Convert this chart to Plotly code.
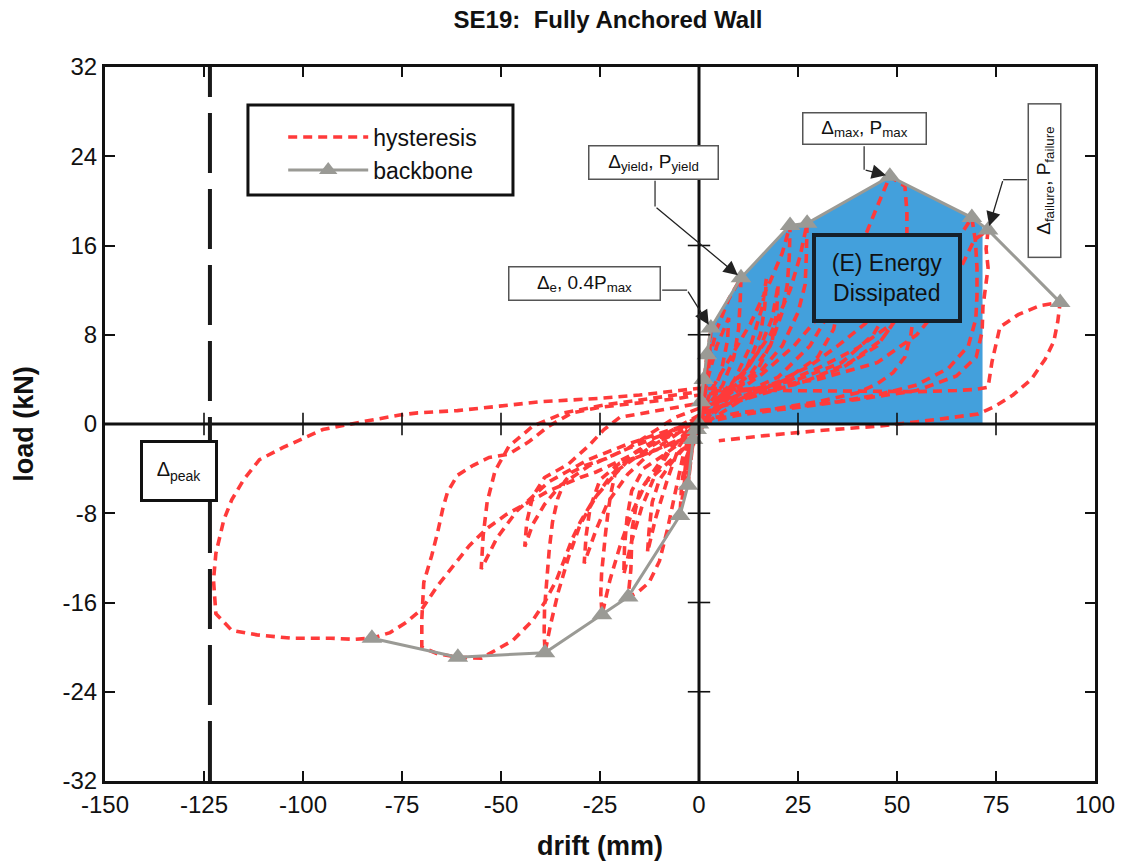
import plotly.graph_objects as go

# ---------------- data ----------------
x_ticks = [-150, -125, -100, -75, -50, -25, 0, 25, 50, 75, 100]
y_ticks = [-32, -24, -16, -8, 0, 8, 16, 24, 32]

# backbone (negative branch from far left to origin, then positive branch)
bb_neg_x = [-82.6, -60.9, -38.9, -24.5, -17.9, -4.8, -2.8, -1.5, -0.6]
bb_neg_y = [-19.2, -20.9, -20.5, -17.1, -15.5, -8.2, -5.5, -1.4, -0.5]
bb_pos_x = [0.0, 0.5, 1.2, 2.0, 3.0, 10.6, 23.0, 27.3, 48.2, 68.9, 73.0, 91.2]
bb_pos_y = [0.0, 2.0, 4.0, 6.2, 8.6, 13.1, 17.8, 18.0, 22.2, 18.5, 17.4, 10.9]

energy_right_x = 71.6      # right edge of the shaded energy region
energy_right_top = 17.8
delta_peak_x = -123.5

# hysteresis cycles
s1_x = [0, 0.3, 0.6, 0.4, 0.1, -0.3, -0.6, -0.4, 0]
s1_y = [0, 1.2, 2.2, 1.2, 0.3, -0.4, -0.9, -0.5, 0]
s2_x = [0, 0.6, 1.2, 0.9, 0.3, -0.4, -1.0, -1.5, -1.0, -0.3, 0]
s2_y = [0, 2.0, 4.0, 2.5, 0.8, -0.3, -0.9, -1.4, -0.8, -0.2, 0]
s3_x = [0, 1.0, 2.0, 1.6, 0.8, 0, -0.8, -1.8, -2.8, -2.3, -1.4, -0.5, 0]
s3_y = [0, 3.0, 6.2, 4.0, 1.8, 0.4, -0.8, -2.5, -5.5, -3.4, -1.6, -0.5, 0]
s4_x = [0, 1.5, 3.0, 2.6, 1.6, 0.5, -0.5, -1.5, -2.8, -2.4, -1.5, -0.5, 0]
s4_y = [0, 4.0, 8.6, 5.5, 2.8, 1.0, -0.2, -1.5, -5.5, -3.5, -1.8, -0.6, 0]
c2_x = [0, 2, 4.5, 7.5, 10.6, 10.4, 10.0, 8.8, 6, 3, 0.5, -1, -2.5, -3.8, -4.8, -4.4, -3.6, -2.4, -1, 0]
c2_y = [0, 5, 8.5, 11.2, 13.1, 11, 8.5, 6, 3.5, 2, 1, -0.5, -2.5, -5.5, -8.2, -5.5, -3.5, -2, -0.8, -0.3]
t2_x = [0, 2, 4.5, 7.5, 7.2, 5.5, 3, 0.5, -1, -2.5, -3.8, -3.2, -2, -0.5, 0]
t2_y = [-0.3, 3.8, 7, 9.5, 7.5, 4.5, 2.5, 1, -0.5, -2.5, -5, -3, -1.8, -0.6, 0]
c3_x = [0, 3, 8, 13, 18, 21, 23.0, 22.8, 22.3, 21, 18, 13, 8, 3, 0, -2, -4, -6, -8, -10, -12.6, -15.5, -17.9,
        -17.2, -17.1, -16.9, -16, -15, -13.4, -11, -7, -3, 0]
c3_y = [0, 3, 6, 9, 12.8, 15.3, 17.8, 15, 12.5, 10, 7, 4.5, 3, 1.8, 0.8, -0.6, -2.8, -6, -9.5, -12.3, -14.2, -15.1, -15.5,
        -13, -11.2, -9.4, -7.6, -6.1, -5.2, -4.5, -3.2, -1.8, -0.8]
t3_x = [0, 4, 9, 13, 16, 17, 16.6, 15.5, 12, 7, 2, 0, -2, -5, -8, -11, -13, -12.6, -11.8, -10, -7, -3, 0]
t3_y = [-0.8, 1.5, 4, 7, 10.5, 13, 10.5, 8, 5, 3, 1.5, 0.7, -0.4, -2, -5, -8.5, -11.5, -9.5, -7, -5, -3.5, -1.8, -0.6]
c4_x = [0, 5, 12, 18, 23, 25.5, 27.3, 27.1, 26.8, 25, 21, 15, 8, 2, 0, -3, -8, -13, -17, -20, -22.5, -24.5,
        -24.8, -24.6, -24.2, -23.6, -23.0, -22.3, -21.2, -18, -12, -5, 0]
c4_y = [-0.6, 2.5, 5, 8, 12, 15, 18.0, 15, 12.5, 10, 7, 4.5, 2.8, 1.5, 0.8, -0.8, -2.5, -5, -8, -11, -14, -17.1,
        -15.2, -13.4, -11.6, -9.8, -8, -6.3, -4.5, -3.3, -2.5, -1.5, -0.5]
t4_x = [0, 5, 10, 15, 18.5, 20, 19.6, 18.5, 15, 9, 3, 0, -3, -7, -11, -14.5, -17, -19, -18.8, -18.2, -17, -14, -9, -4, 0]
t4_y = [-0.5, 1.8, 3.8, 6.5, 9.5, 12.5, 10, 7.5, 5, 3, 1.6, 0.8, -0.6, -2.2, -4.5, -7.5, -10.5, -13.5, -11, -8.5, -6,
        -4, -2.8, -1.5, -0.5]
c5_x = [0, 8, 16, 24, 30, 36, 41, 45, 48.2, 52, 52.5, 52.5, 51.8, 50, 47, 42, 35, 28, 20, 12, 5, 0, -5, -12, -20,
        -26, -30, -33, -35.5, -37.5, -38.9, -39.1, -39.0, -38.3, -37.8, -37, -35.7, -34, -32, -28.5, -23.4, -18,
        -12, -6, 0]
c5_y = [-0.5, 2.5, 4.5, 7, 9.5, 12.5, 16, 19.5, 22.2, 21.3, 19, 17, 15.5, 13.5, 11.5, 9, 7, 5.2, 3.8, 2.6, 1.6, 0.8,
        -0.5, -2, -4, -6.5, -9, -12, -15, -18, -20.5, -18.5, -16.5, -13.2, -11.2, -8.8, -6.7, -5.2, -4.3, -3.7, -3.1,
        -2.2, -0.8, 0.6, 1.4]
t5_x = [0, 10, 20, 28, 33, 36, 35.5, 34, 30, 22, 12, 4, 0, -6, -12, -18, -23, -26, -29, -28.5, -27.5, -25, -20, -12, -4, 0]
t5_y = [1.4, 2.6, 4.2, 7, 10, 13.5, 11, 8.5, 6, 4, 2.5, 1.3, 0.5, -1, -2.5, -4.5, -7, -9.5, -12.5, -10, -7.5, -5, -3.5,
        -2.5, -1.2, -0.3]
c6_x = [0, 10, 20, 30, 40, 48, 55, 60, 64, 68.9, 69.8, 70.2, 70.2, 69.9, 68, 63, 55, 45, 35, 22, 10, 0, -8, -16, -22,
        -27, -30, -32, -34, -36, -39, -42, -47, -51, -55, -60.9, -66, -70, -70, -69.5, -67.5, -66, -64.7, -63.5,
        -61, -57, -53, -48, -43, -38, -32, -25, -15, -5, 0]
c6_y = [-0.3, 2, 3.5, 5, 6.8, 8.8, 11, 13.5, 15.8, 18.5, 16.4, 14, 11.5, 9.4, 7, 5, 3.5, 2.6, 2, 1.5, 1, 0.3, -0.8,
        -2.5, -4.5, -7, -8.8, -10.3, -12.2, -14, -16, -17.6, -19.4, -20.2, -21, -20.9, -20.6, -20.0, -17.5, -14.2,
        -11.8, -9.7, -7.6, -6.1, -4.6, -3.7, -3, -2.7, -1.6, -0.2, 1.0, 1.5, 1.9, 2.3, 2.6]
t6_x = [0, 12, 25, 36, 44, 49, 52, 51.5, 50, 46, 38, 28, 16, 6, 0, -8, -18, -28, -35, -39, -42, -44, -43.5, -42,
        -39, -33, -28, -24, -20, -12, -5, 0]
t6_y = [2.6, 3.0, 4.0, 5.5, 8, 11, 14.5, 12, 9.5, 7.5, 5.5, 4, 2.7, 1.6, 0.8, -0.8, -2.2, -3.8, -5.5, -7.2, -9,
        -11, -8.8, -6.5, -4.8, -3.6, -2.0, -0.5, 0.6, 1.1, 1.5, 1.8]
t7_x = [0, 12, 25, 36, 45, 50, 55, 54.5, 53.5, 52, 49, 45, 40, 30, 20, 10, 0, -8, -18, -28, -38, -46, -51, -55,
        -54.5, -53.5, -51.5, -48, -42, -34, -24, -12, 0]
t7_y = [1.8, 2.6, 3.6, 5.0, 7.0, 9.5, 13.0, 10.5, 8.0, 6.0, 4.6, 3.6, 2.8, 2.0, 1.4, 0.8, 0.2, -0.6, -1.8, -3.2,
        -5.2, -7.8, -10.2, -13.0, -10.0, -7.0, -4.2, -2.0, -0.2, 1.0, 1.7, 2.3, 2.9]
c7_x = [0, 15, 30, 45, 55, 62, 66, 69.5, 73.0, 72.5, 73, 72.3, 71.7, 71.5, 70, 65, 55, 40, 25, 10, 0, -10, -20, -26,
        -30, -34, -38, -43, -48.6, -53.7, -58, -62, -66, -70, -74, -78, -82.6, -87, -93, -103, -111.6, -118, -122,
        -122.6, -122, -120, -118, -115, -111, -105, -95, -85, -75.6, -71, -61, -50.4, -40, -25, -15, -5, 0]
c7_y = [2.9, 3.2, 4.0, 5.5, 8, 11, 14, 16.5, 17.4, 15.7, 14, 12.3, 10.5, 8.3, 6, 4.3, 3, 2.2, 1.5, 0.8, 0, -1.5,
        -3.3, -4.3, -4.8, -5.4, -6, -7, -8.1, -9.4, -10.9, -12.7, -14.5, -16.6, -17.8, -18.7, -19.2, -19.3, -19.2,
        -19.2, -18.9, -18.5, -17.0, -14.0, -11.6, -8.6, -6.8, -5.0, -3.2, -2.1, -0.5, 0.2, 0.8, 1.0, 1.2, 1.6, 2.0,
        2.3, 2.6, 3.0, 3.2]
c8_x = [0, 20, 40, 55, 65, 70, 73, 74, 76, 80.6, 86, 91.2, 90.6, 89.6, 87.4, 83.9, 79.3, 74.3, 70.5, 60, 45, 30, 15, 5]
c8_y = [3.2, 3.0, 2.9, 2.9, 3.0, 3.1, 3.3, 5.6, 8.7, 9.8, 10.6, 10.9, 9.2, 7.4, 5.8, 4.0, 2.6, 1.5, 0.9, 0.4, -0.2,
        -0.6, -1.1, -1.5]

cycles_x = [s1_x, s2_x, s3_x, s4_x, c2_x, t2_x, c3_x, t3_x, c4_x, t4_x, c5_x, t5_x, c6_x, t6_x, t7_x, c7_x, c8_x]
cycles_y = [s1_y, s2_y, s3_y, s4_y, c2_y, t2_y, c3_y, t3_y, c4_y, t4_y, c5_y, t5_y, c6_y, t6_y, t7_y, c7_y, c8_y]

hyst_x, hyst_y = [], []
for cx, cy in zip(cycles_x, cycles_y):
    hyst_x += cx
    hyst_y += cy

bb_x = bb_neg_x + bb_pos_x
bb_y = bb_neg_y + bb_pos_y

# energy region: origin, positive backbone up to the failure drift, then down
fill_x = [x for x in bb_pos_x if x <= energy_right_x] + [energy_right_x, energy_right_x, 0]
fill_y = [y for x, y in zip(bb_pos_x, bb_pos_y) if x <= energy_right_x] + [energy_right_top, 0, 0]

# ---------------- figure ----------------
FONT = "Liberation Sans, Arial, sans-serif"
BLUE = "#43a0dc"
RED = "#ff3a3a"
GRAY = "#9a9a95"

fig = go.Figure()
fig.add_trace(go.Scatter(x=fill_x, y=fill_y, fill="toself", fillcolor=BLUE, mode="none",
                         showlegend=False, hoverinfo="skip"))
fig.add_trace(go.Scatter(x=hyst_x, y=hyst_y, mode="lines", name="hysteresis",
                         line=dict(color=RED, width=3.6, dash="9px,6px")))
fig.add_trace(go.Scatter(x=bb_x, y=bb_y, mode="lines+markers", name="backbone",
                         line=dict(color=GRAY, width=3),
                         marker=dict(symbol="triangle-up", size=18, color=GRAY)))
# tick marks crossing the zero lines
xt_inner = [t for t in x_ticks if t not in (x_ticks[0], x_ticks[-1], 0)]
yt_inner = [t for t in y_ticks if t not in (y_ticks[0], y_ticks[-1], 0)]
fig.add_trace(go.Scatter(x=xt_inner, y=[0] * len(xt_inner), mode="markers", showlegend=False, hoverinfo="skip",
                         marker=dict(symbol="line-ns", size=16, line=dict(color="#111", width=1.6))))
fig.add_trace(go.Scatter(x=[0] * len(yt_inner), y=yt_inner, mode="markers", showlegend=False, hoverinfo="skip",
                         marker=dict(symbol="line-ew", size=16, line=dict(color="#111", width=1.6))))

shapes = [
    dict(type="line", x0=0, x1=0, y0=-32, y1=32, xref="x", yref="y", line=dict(color="#111", width=3), layer="above"),
    dict(type="line", x0=-150, x1=100, y0=0, y1=0, xref="x", yref="y", line=dict(color="#111", width=3), layer="above"),
    dict(type="line", x0=delta_peak_x, x1=delta_peak_x, y0=-32, y1=32, xref="x", yref="y",
         line=dict(color="#1a1a1a", width=4, dash="60px,16px"), layer="above"),
    # legend frame
    dict(type="rect", xref="paper", yref="paper", x0=0.1444, x1=0.4121, y0=0.8207, y1=0.9468,
         line=dict(color="#111", width=3), fillcolor="rgba(0,0,0,0)", layer="above"),
    # leader lines
    dict(type="line", x0=-11.1, x1=-11.1, y0=21.8, y1=19.5, line=dict(color="#333", width=1.3), layer="above"),
    dict(type="line", x0=-9.3, x1=-3.0, y0=12.0, y1=12.0, line=dict(color="#333", width=1.3), layer="above"),
    dict(type="line", x0=41.7, x1=41.7, y0=24.9, y1=22.8, line=dict(color="#333", width=1.3), layer="above"),
    dict(type="line", x0=82.8, x1=76.8, y0=21.9, y1=21.9, line=dict(color="#333", width=1.3), layer="above"),
]

ann = []
def box(text, x, y, w, h, size=19, angle=0, bw=1.5, bc="#555", bg="white", color="#111"):
    ann.append(dict(text=text, x=x, y=y, xref="x", yref="y", showarrow=False, width=w, height=h,
                    textangle=angle, bgcolor=bg, bordercolor=bc, borderwidth=bw, borderpad=0,
                    font=dict(family=FONT, size=size, color=color), align="center", valign="middle"))

def arrow(tx, ty, hx, hy):
    ann.append(dict(text="", x=hx, y=hy, ax=tx, ay=ty, xref="x", yref="y", axref="x", ayref="y",
                    showarrow=True, arrowhead=2, arrowsize=2.2, arrowwidth=1.3, arrowcolor="#222", standoff=4))

box("Δ<sub>yield</sub>, P<sub>yield</sub>", -11.4, 23.4, 128, 32)
box("Δ<sub>e</sub>, 0.4P<sub>max</sub>", -28.8, 12.6, 150, 32)
box("Δ<sub>max</sub>, P<sub>max</sub>", 41.7, 26.5, 122, 30)
box("Δ<sub>failure</sub>, P<sub>failure</sub>", 87.2, 21.8, 152, 31, angle=-90)
box("Δ<sub>peak</sub>", -131.3, -4.2, 72, 56, size=20, bw=3, bc="#111")
box("(E) Energy<br>Dissipated", 47.5, 13.1, 142, 82, size=23, bw=4, bc="#15202a", bg=BLUE)

arrow(-11.1, 19.5, 10.6, 13.1)
arrow(-3.0, 12.0, 3.0, 8.6)
arrow(41.7, 22.8, 48.2, 22.2)
arrow(76.8, 21.9, 73.0, 17.4)

fig.update_layout(
    width=1124, height=861,
    margin=dict(l=105, r=29, t=67, b=80),
    paper_bgcolor="white", plot_bgcolor="white",
    font=dict(family=FONT, size=22, color="#111"),
    title=dict(text="<b>SE19:\u00a0 Fully Anchored Wall</b>", x=0.541, xanchor="center", y=0.977, yanchor="middle",
               font=dict(family=FONT, size=24, color="#111")),
    xaxis=dict(range=[-150, 100], tickvals=x_ticks, ticktext=[str(t) for t in x_ticks],
               ticks="inside", ticklen=10, tickwidth=1.5, tickcolor="#111",
               showline=True, linewidth=3, linecolor="#111", mirror="ticks",
               showgrid=False, zeroline=False, tickfont=dict(size=24), automargin=False,
               title=dict(text="<b>drift (mm)</b>", font=dict(family=FONT, size=27), standoff=20)),
    yaxis=dict(range=[-32, 32], tickvals=y_ticks, ticktext=[str(t) for t in y_ticks],
               ticks="inside", ticklen=10, tickwidth=1.5, tickcolor="#111",
               showline=True, linewidth=3, linecolor="#111", mirror="ticks",
               showgrid=False, zeroline=False, tickfont=dict(size=24), automargin=False,
               title=dict(text="<b>load (kN)</b>", font=dict(family=FONT, size=27), standoff=22)),
    legend=dict(x=0.18, y=0.932, xanchor="left", yanchor="top", bgcolor="rgba(0,0,0,0)",
                borderwidth=0, itemwidth=80, font=dict(size=23), tracegroupgap=0),
    shapes=shapes, annotations=ann,
)

fig.write_html("out.html")
